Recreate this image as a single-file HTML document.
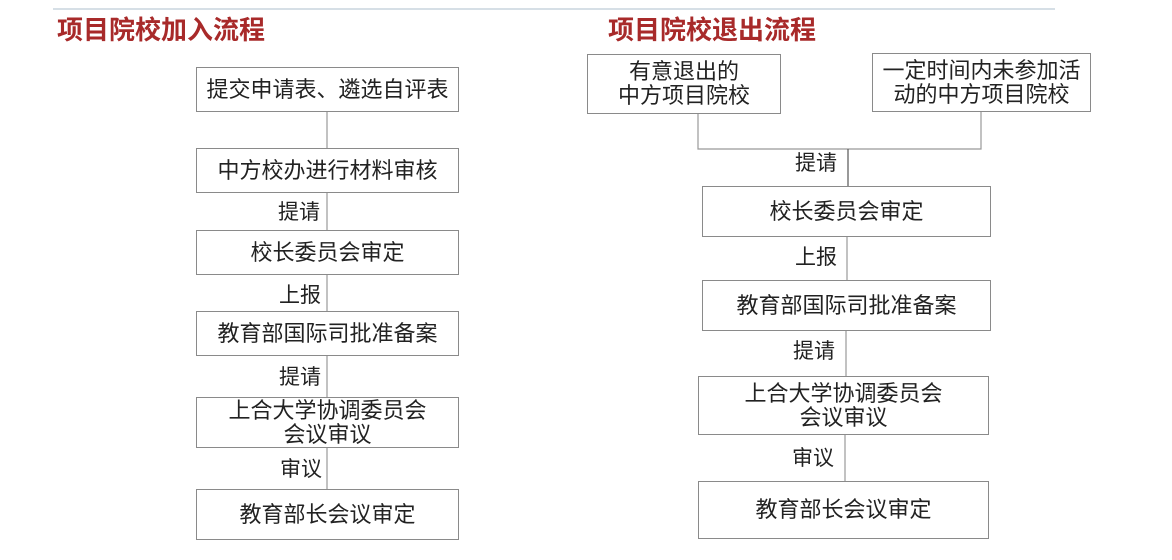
<!DOCTYPE html>
<html><head><meta charset="utf-8"><style>
body{margin:0;width:1172px;height:560px;background:#fff;position:relative;overflow:hidden;font-family:"Liberation Sans","Noto Sans CJK SC",sans-serif;}
.b{position:absolute;border:1.5px solid #8a8a8a;box-sizing:border-box;display:flex;align-items:center;justify-content:center;text-align:center;font-size:22px;color:#222;line-height:24px;background:#fff}
.t{position:absolute;font-size:26px;font-weight:bold;color:#a82a2a}
.l{position:absolute;font-size:21px;color:#222}
</style></head><body>
<div style="position:absolute;left:53px;top:8px;width:1002px;height:2px;background:#d6dfe6"></div>
<div class="t" style="left:57px;top:10px">项目院校加入流程</div>
<div class="t" style="left:608px;top:10px">项目院校退出流程</div>
<svg width="1172" height="560" style="position:absolute;left:0;top:0">
<g stroke="#999" stroke-width="1.2" fill="none">
<line x1="327" y1="111" x2="327" y2="148"/>
<line x1="327" y1="192" x2="327" y2="230"/>
<line x1="327" y1="274" x2="327" y2="311"/>
<line x1="327" y1="355" x2="327" y2="397"/>
<line x1="327" y1="447" x2="327" y2="489"/>
<polyline points="698,113 698,149 981,149 981,111"/>
<line x1="848" y1="149" x2="848" y2="186" stroke="#555"/>
<line x1="847" y1="236" x2="847" y2="280"/>
<line x1="846" y1="330" x2="846" y2="376"/>
<line x1="845" y1="434" x2="845" y2="481"/>
</g>
</svg>
<div class="b" style="left:196px;top:67px;width:263px;height:45px">提交申请表、遴选自评表</div>
<div class="b" style="left:196px;top:148px;width:263px;height:45px">中方校办进行材料审核</div>
<div class="l" style="left:278px;top:196px">提请</div>
<div class="b" style="left:196px;top:230px;width:263px;height:45px">校长委员会审定</div>
<div class="l" style="left:279px;top:279px">上报</div>
<div class="b" style="left:196px;top:311px;width:263px;height:45px">教育部国际司批准备案</div>
<div class="l" style="left:279px;top:361px">提请</div>
<div class="b" style="left:196px;top:397px;width:263px;height:51px">上合大学协调委员会<br>会议审议</div>
<div class="l" style="left:280px;top:453px">审议</div>
<div class="b" style="left:196px;top:489px;width:263px;height:51px">教育部长会议审定</div>

<div class="b" style="left:587px;top:54px;width:194px;height:60px">有意退出的<br>中方项目院校</div>
<div class="b" style="left:872px;top:53px;width:219px;height:59px">一定时间内未参加活<br>动的中方项目院校</div>
<div class="l" style="left:795px;top:147px">提请</div>
<div class="b" style="left:702px;top:186px;width:289px;height:51px">校长委员会审定</div>
<div class="l" style="left:795px;top:241px">上报</div>
<div class="b" style="left:702px;top:280px;width:289px;height:51px">教育部国际司批准备案</div>
<div class="l" style="left:793px;top:335px">提请</div>
<div class="b" style="left:698px;top:376px;width:291px;height:59px">上合大学协调委员会<br>会议审议</div>
<div class="l" style="left:792px;top:442px">审议</div>
<div class="b" style="left:698px;top:481px;width:291px;height:58px">教育部长会议审定</div>
</body></html>
